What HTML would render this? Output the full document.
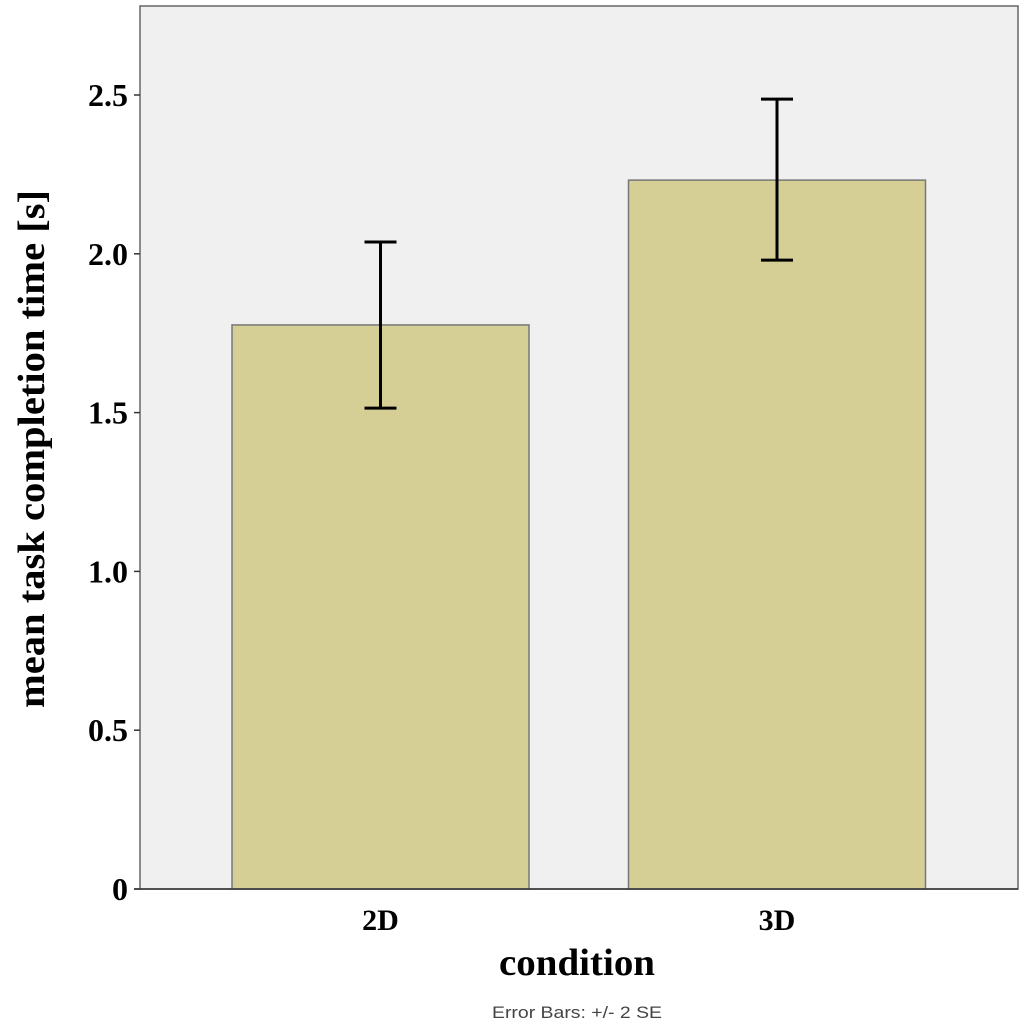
<!DOCTYPE html>
<html><head><meta charset="utf-8"><style>
html,body{margin:0;padding:0;background:#fff;}
svg{display:block;}
</style></head><body>
<svg id="chart" width="1024" height="1031" viewBox="0 0 1024 1031" xmlns="http://www.w3.org/2000/svg">
<rect x="140" y="6" width="878" height="883" fill="#f0f0f0" stroke="#666" stroke-width="1.5"/>
<g id="bars"></g>
<g id="yaxis"></g>
<line x1="134" y1="889" x2="1018" y2="889" stroke="#333" stroke-width="1.5"/>
<text x="577" y="975" font-family="Liberation Serif, serif" font-weight="bold" font-size="38" text-anchor="middle" textLength="156" lengthAdjust="spacingAndGlyphs">condition</text>
<text transform="translate(44,449) rotate(-90)" font-family="Liberation Serif, serif" font-weight="bold" font-size="38" text-anchor="middle" textLength="518" lengthAdjust="spacingAndGlyphs">mean task completion time [s]</text>
<text x="577" y="1018" font-family="Liberation Sans, sans-serif" font-size="17" fill="#444" text-anchor="middle" textLength="170" lengthAdjust="spacingAndGlyphs">Error Bars: +/- 2 SE</text>
</svg>
<script>
const categories = ["2D", "3D"];
const means = [1.776, 2.232];
const errLow = [1.514, 1.980];
const errHigh = [2.037, 2.487];
const yTicks = [0, 0.5, 1.0, 1.5, 2.0, 2.5];
const yTickLabels = ["0", "0.5", "1.0", "1.5", "2.0", "2.5"];

const NS = "http://www.w3.org/2000/svg";
const y0 = 889, pxPerUnit = 317.6;
function yScale(v){ return y0 - v * pxPerUnit; }
const plotLeft = 140, plotW = 878;
const barW = 297;
const bandW = 396.5;
function xCenter(i){ return 380.5 + i * bandW; }
function mk(tag, attrs, parent){ const e = document.createElementNS(NS, tag); for (const k in attrs) e.setAttribute(k, attrs[k]); parent.appendChild(e); return e; }

const bars = document.getElementById("bars");
categories.forEach((c, i) => {
  const cx = xCenter(i);
  const r = mk("rect", {x: cx - barW/2, y: yScale(means[i]), width: barW, height: y0 - yScale(means[i]), fill: "#d5cf96", stroke: "#777", "stroke-width": 1.5}, bars);
  
  
  const g = mk("g", {stroke: "#000", "stroke-width": 3}, bars);
  
  
  mk("line", {x1: cx, x2: cx, y1: yScale(errLow[i]), y2: yScale(errHigh[i])}, g);
  mk("line", {x1: cx - 16, x2: cx + 16, y1: yScale(errLow[i]), y2: yScale(errLow[i])}, g);
  mk("line", {x1: cx - 16, x2: cx + 16, y1: yScale(errHigh[i]), y2: yScale(errHigh[i])}, g);
  const t = mk("text", {x: cx, y: 930, "font-family": "Liberation Serif, serif", "font-weight": "bold", "font-size": 30, "text-anchor": "middle"}, bars);
  
  
  t.textContent = c;
});

const ya = document.getElementById("yaxis");
yTicks.forEach((v, i) => {
  const l = mk("line", {x1: 134, x2: 140, y1: yScale(v), y2: yScale(v), stroke: "#333", "stroke-width": 1.5}, ya);
  
  
  const t = mk("text", {x: 128, y: yScale(v) + 11, "font-family": "Liberation Serif, serif", "font-weight": "bold", "font-size": 32, "text-anchor": "end"}, ya);
  
  
  t.textContent = yTickLabels[i];
});
</script>
</body></html>
